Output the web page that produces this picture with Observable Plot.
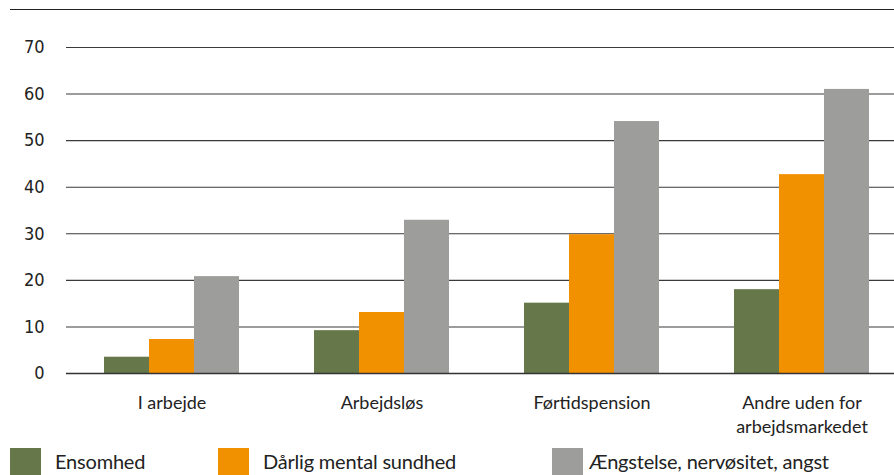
<!DOCTYPE html>
<html><head><meta charset="utf-8">
<script src="https://cdn.jsdelivr.net/npm/d3@7"></script>
<script src="https://cdn.jsdelivr.net/npm/@observablehq/plot@0.6"></script>
<style>
body{margin:0;background:#fff;width:894px;height:475px;overflow:hidden;position:relative;font-family:Lato,sans-serif}
.layer{position:absolute;left:0;top:0}
.layer svg{background:transparent !important}
#topline{position:absolute;left:10px;top:9px;width:884px;height:0;border-top:1.5px solid #222}
#legend{position:absolute;top:448px;left:0;width:894px;height:27px}
.item{position:absolute;top:0;height:27px;display:flex;align-items:flex-start}
.sw{width:31px;height:27px;flex:none}
.lab{margin-left:14px;font-size:20px;line-height:20px;padding-top:3px;color:#222;white-space:nowrap;letter-spacing:-0.2px}
.item:nth-child(1){left:10px}
.item:nth-child(2){left:218px}
.item:nth-child(3){left:552px}
.item:nth-child(3) .lab{margin-left:6px}
</style></head><body>
<div id="grid" class="layer"></div><div id="bars" class="layer"></div><div id="axes" class="layer"></div>
<div id="topline"></div><div id="legend"></div>
<script>
const categories = ["I arbejde", "Arbejdsløs", "Førtidspension", "Andre uden for arbejdsmarkedet"];
const series = ["Ensomhed", "Dårlig mental sundhed", "Ængstelse, nervøsitet, angst"];
const ensomhed = [3.5, 9.2, 15.1, 18.0];
const daarligMentalSundhed = [7.3, 13.1, 29.8, 42.7];
const aengstelse = [20.8, 32.9, 54.1, 61.0];
const colors = ["#667849", "#F29100", "#9D9D9C"];
const yTicks = [0, 10, 20, 30, 40, 50, 60, 70];

const seriesValues = [ensomhed, daarligMentalSundhed, aengstelse];
const data = categories.flatMap((c, i) => series.map((s, j) => ({category: c, series: s, value: seriesValues[j][i]})));

const common = {
  width: 894, height: 440,
  marginLeft: 66, marginRight: -12, marginTop: 47, marginBottom: 67,
  style: {fontFamily: "Lato, sans-serif", color: "#222", background: "transparent"},
  y: {domain: [0, 70], ticks: yTicks, axis: null}
};

// Layer 1: gridlines
document.getElementById("grid").appendChild(Plot.plot({
  ...common,
  marks: [
    Plot.ruleY(yTicks.filter(t => t > 0), {stroke: "#3a3a3a", strokeWidth: 1.1})
  ]
}));

// Layer 2: grouped bars and category axis
document.getElementById("bars").appendChild(Plot.plot({
  ...common,
  fx: {domain: categories, paddingInner: 0.35, paddingOuter: 0.175, label: null, axis: null},
  x: {domain: series, padding: 0, axis: null},
  color: {domain: series, range: colors},
  marks: [
    Plot.barY(data, {fx: "category", x: "series", y: "value", fill: "series"}),
    Plot.axisFx({anchor: "bottom", tickSize: 0, tickPadding: 19, label: null, fontSize: 18, lineHeight: 1.3, fill: "#222",
      tickFormat: d => d === "Andre uden for arbejdsmarkedet" ? "Andre uden for\narbejdsmarkedet" : d})
  ]
}));

// Layer 3: baseline and value axis
document.getElementById("axes").appendChild(Plot.plot({
  ...common,
  marks: [
    Plot.ruleY([0], {stroke: "#333", strokeWidth: 1.5}),
    Plot.axisY(yTicks, {tickSize: 0, tickPadding: 22, label: null, fontSize: 18, fontFamily: "'DejaVu Sans Condensed', 'DejaVu Sans', sans-serif", fill: "#222"})
  ]
}));

const legend = document.getElementById("legend");
series.forEach((s, j) => {
  const item = document.createElement("div");
  item.className = "item";
  const sw = document.createElement("div");
  sw.className = "sw";
  sw.style.background = colors[j];
  const lab = document.createElement("span");
  lab.className = "lab";
  lab.textContent = s;
  item.appendChild(sw);
  item.appendChild(lab);
  legend.appendChild(item);
});
</script>
</body></html>
